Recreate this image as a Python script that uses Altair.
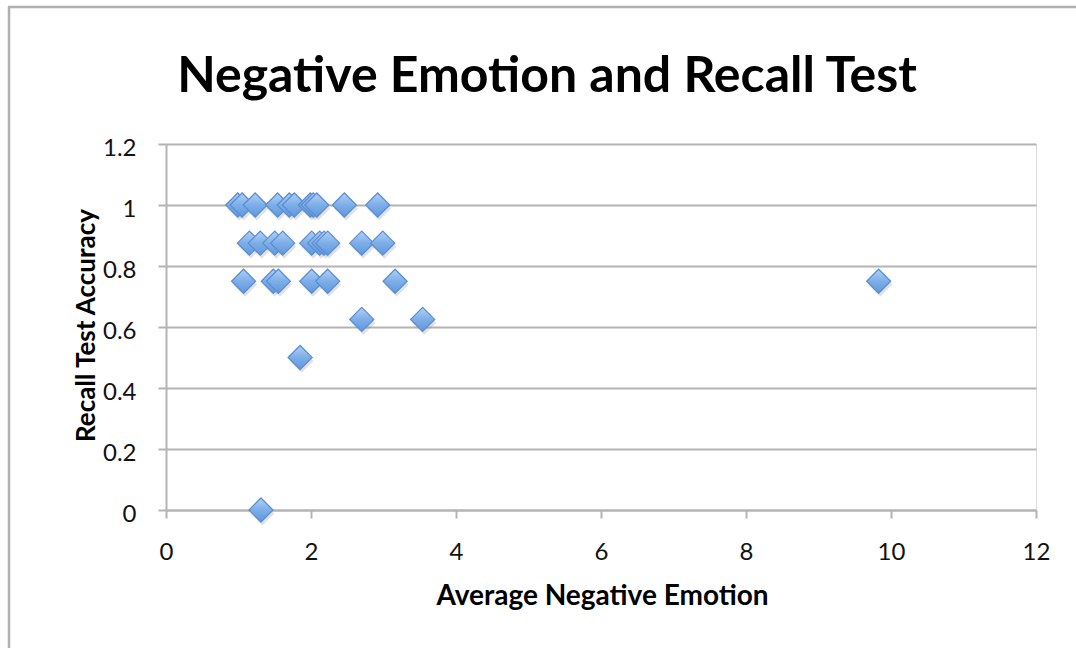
import altair as alt
import pandas as pd

# Average negative emotion score per participant, grouped by recall accuracy
acc_100 = [0.99, 1.05, 1.23, 1.54, 1.70, 1.77, 1.99, 2.03, 2.08, 2.46, 2.92]
acc_875 = [1.15, 1.30, 1.50, 1.61, 2.01, 2.12, 2.18, 2.23, 2.70, 2.99]
acc_750 = [1.07, 1.48, 1.55, 2.01, 2.23, 3.16, 9.83]
acc_625 = [2.70, 3.54]
acc_500 = [1.85]
acc_000 = [1.31]

groups = [(1.0, acc_100), (0.875, acc_875), (0.75, acc_750),
          (0.625, acc_625), (0.5, acc_500), (0.0, acc_000)]
rows = [{"emotion": e, "accuracy": a} for a, xs in groups for e in xs]
df = pd.DataFrame(rows)

x_ticks = [0, 2, 4, 6, 8, 10, 12]
y_ticks = [0, 0.2, 0.4, 0.6, 0.8, 1.0, 1.2]
chart_title = "Negative Emotion and Recall Test"

FONT = "Lato"
GRID = "#B4B4B4"

x_enc = alt.X(
    "emotion:Q",
    scale=alt.Scale(domain=[0, 12], nice=False),
    axis=alt.Axis(
        values=x_ticks, title="Average Negative Emotion", grid=False,
        tickSize=8, tickColor=GRID, tickWidth=2,
        domainColor=GRID, domainWidth=2,
        labelFont=FONT, labelFontSize=24, labelColor="#111111", labelPadding=22,
        labelFlush=False,
        titleFont=FONT, titleFontSize=28, titleFontWeight="bold", titleColor="#000000",
        titleX=436, titleY=94, titleBaseline="alphabetic", titleAnchor="middle",
    ),
)
y_enc = alt.Y(
    "accuracy:Q",
    scale=alt.Scale(domain=[0, 1.2], nice=False),
    axis=alt.Axis(
        values=y_ticks, format="~g", title="Recall Test Accuracy",
        grid=True, gridColor=GRID, gridWidth=2,
        tickSize=8, tickColor=GRID, tickWidth=2,
        domainColor=GRID, domainWidth=2,
        labelFont=FONT, labelFontSize=24, labelColor="#111111", labelPadding=22,
        labelOffset=4, labelFlush=False,
        titleFont=FONT, titleFontSize=26, titleFontWeight="bold", titleColor="#000000",
        titleX=-72, titleY=181, titleAngle=-90, titleAlign="center",
        titleBaseline="alphabetic",
    ),
)

diamond_fill = alt.LinearGradient(
    gradient="linear",
    stops=[alt.GradientStop(color="#B3D1F5", offset=0),
           alt.GradientStop(color="#7DAEE8", offset=0.5),
           alt.GradientStop(color="#6097DC", offset=1)],
    x1=0, x2=0, y1=0, y2=1,
)

shadow = alt.Chart(df).mark_point(
    shape="diamond", filled=True, size=580, color="#7A7A7A", opacity=0.22,
    xOffset=1.5, yOffset=3.5,
).encode(x=x_enc, y=y_enc)

points = alt.Chart(df).mark_point(
    shape="diamond", filled=True, size=580, fill=diamond_fill, opacity=1,
    stroke="#5A8ED3", strokeWidth=1.2,
).encode(x=x_enc, y=y_enc)

# Light frame around the chart area (left and top edges)
frame_df = pd.DataFrame({"k": [0]})
frame_left = alt.Chart(frame_df).mark_rule(color="#B0B0B0", strokeWidth=2.5).encode(
    x=alt.value(-157), y=alt.value(-137), y2=alt.value(520)
)
frame_top = alt.Chart(frame_df).mark_rule(color="#B0B0B0", strokeWidth=2.5).encode(
    x=alt.value(-158), x2=alt.value(920), y=alt.value(-137)
)

# Chart heading, centred over the whole figure
heading = alt.Chart(frame_df).mark_text(
    text=chart_title, font=FONT, fontSize=50, fontWeight="bold", color="#000000",
    align="center", baseline="alphabetic",
).encode(x=alt.value(381), y=alt.value(-52))

chart = alt.layer(frame_left, frame_top, heading, shadow, points).properties(
    width=870,
    height=366,
    autosize=alt.AutoSizeParams(type="none"),
    padding={"left": 166, "top": 144, "right": 40, "bottom": 138},
).configure_view(stroke=None).configure(background="white")

chart.save("out.html", embed_options={"renderer": "svg", "actions": False})
